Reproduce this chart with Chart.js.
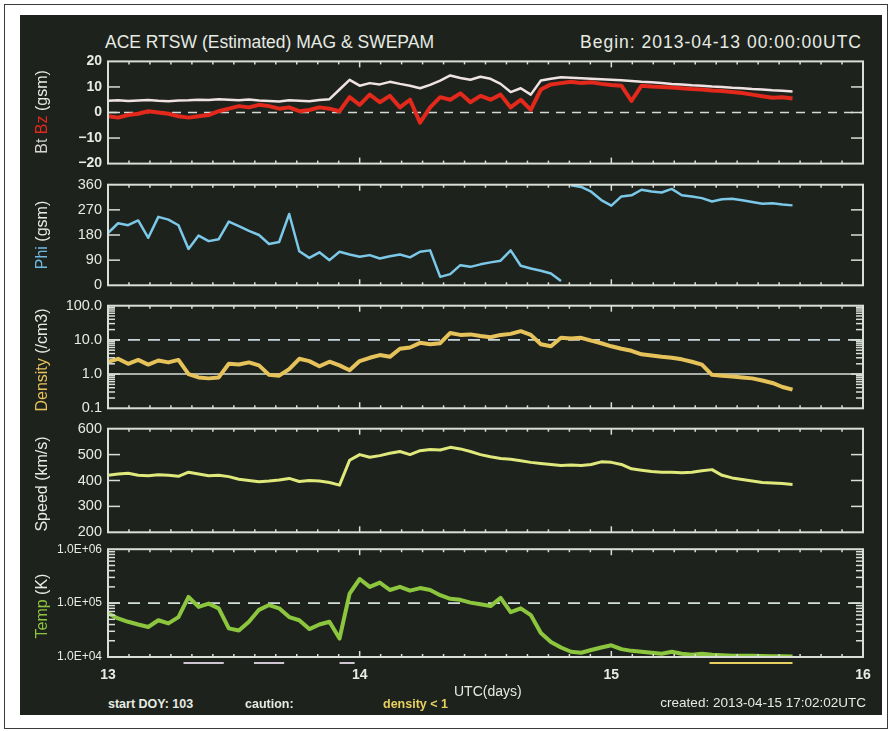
<!DOCTYPE html>
<html>
<head>
<meta charset="utf-8">
<script src="https://cdn.jsdelivr.net/npm/chart.js@4.4.0/dist/chart.umd.min.js"></script>
<style>
  body { margin: 0; background: #fff; }
  #page { position: relative; width: 892px; height: 731px; overflow: hidden; background: #fff;
          font-family: "Liberation Sans", Arial, sans-serif; }
  #frame { position: absolute; left: 4px; top: 4px; width: 882px; height: 723px; border: 1.5px solid #3a3a3a; }
  #board { position: absolute; left: 20px; top: 15px; width: 862px; height: 700px; background: #1e221d; }
  canvas { position: absolute; left: 20px; }
  .txt { position: absolute; color: #e6ebe3; white-space: nowrap; line-height: 1; }
  .ytitle { position: absolute; left: 42px; color: #e6ebe3; white-space: nowrap; line-height: 1;
            font-size: 16px; transform: translate(-50%, -50%) rotate(-90deg); }
</style>
</head>
<body>
<div id="page">
  <div id="frame"></div>
  <div id="board"></div>

  <div class="txt" style="left:105px;top:34px;font-size:17.5px">ACE RTSW (Estimated) MAG &amp; SWEPAM</div>
  <div class="txt" style="right:30px;top:34px;font-size:17.5px;letter-spacing:1px">Begin: 2013-04-13 00:00:00UTC</div>

  <canvas id="c1" width="862" height="131" style="top:47px"></canvas>
  <canvas id="c2" width="862" height="130" style="top:170px"></canvas>
  <canvas id="c3" width="862" height="132" style="top:291px"></canvas>
  <canvas id="c4" width="862" height="133" style="top:414px"></canvas>
  <canvas id="c5" width="862" height="155" style="top:536px"></canvas>

  <div class="ytitle" style="top:112px"><span style="color:#d8d4d4">Bt</span> <span style="color:#e3281c">Bz</span> (gsm)</div>
  <div class="ytitle" style="top:235px"><span style="color:#6fb8e0">Phi</span> (gsm)</div>
  <div class="ytitle" style="top:360px"><span style="color:#e6c35a">Density</span> (/cm3)</div>
  <div class="ytitle" style="top:484px">Speed (km/s)</div>
  <div class="ytitle" style="top:606px"><span style="color:#8cc63f">Temp</span> (K)</div>

  <div class="txt" style="left:108px;top:698px;font-size:12.5px;font-weight:bold">start DOY: 103</div>
  <div class="txt" style="left:245px;top:698px;font-size:12.5px;font-weight:bold">caution:</div>
  <div class="txt" style="left:383px;top:698px;font-size:12.5px;font-weight:bold;color:#e8d060">density &lt; 1</div>
  <div class="txt" style="left:454px;top:684px;font-size:14px">UTC(days)</div>
  <div class="txt" style="right:26px;top:696px;font-size:13.5px">created: 2013-04-15 17:02:02UTC</div>
</div>

<script>
// sample times (day of April 2013, UTC)
const days = [
    13.00, 13.04, 13.08, 13.12, 13.16, 13.20, 13.24, 13.28, 13.32, 13.36,
    13.40, 13.44, 13.48, 13.52, 13.56, 13.60, 13.64, 13.68, 13.72, 13.76,
    13.80, 13.84, 13.88, 13.92, 13.96, 14.00, 14.04, 14.08, 14.12, 14.16,
    14.20, 14.24, 14.28, 14.32, 14.36, 14.40, 14.44, 14.48, 14.52, 14.56,
    14.60, 14.64, 14.68, 14.72, 14.76, 14.80, 14.84, 14.88, 14.92, 14.96,
    15.00, 15.04, 15.08, 15.12, 15.16, 15.20, 15.24, 15.28, 15.32, 15.36,
    15.40, 15.44, 15.48, 15.52, 15.56, 15.60, 15.64, 15.68, 15.72
];

const btValues = [
    4.6, 4.8, 4.5, 4.7, 4.9, 4.6, 4.4, 4.7, 4.8, 5.0,
    4.9, 5.2, 5.0, 4.8, 5.1, 4.7, 4.5, 4.3, 4.8, 4.6,
    4.4, 4.9, 5.2, 9.0, 12.8, 10.5, 11.5, 11.0, 12.0, 11.2,
    10.5, 9.5, 10.8, 12.5, 14.5, 13.5, 12.8, 14.0, 13.2, 11.2,
    8.0, 9.5, 7.0, 12.5, 13.2, 13.8, 13.6, 13.4, 13.2, 13.0,
    12.8, 12.6, 12.3, 12.0, 11.8, 11.5, 11.2, 11.0, 10.7, 10.5,
    10.2, 10.0, 9.7, 9.5, 9.2, 9.0, 8.7, 8.5, 8.2
];

const bzValues = [
    -1.5, -2.0, -1.0, -0.5, 0.5, 0.0, -0.5, -1.5, -2.0, -1.5,
    -1.0, 0.5, 1.5, 2.5, 2.0, 3.0, 2.5, 1.5, 2.0, 0.5,
    1.0, 2.0, 1.5, 0.5, 6.0, 3.0, 7.0, 4.0, 6.5, 2.0,
    5.0, -4.0, 2.0, 6.0, 5.0, 7.5, 4.0, 6.5, 5.0, 7.0,
    2.0, 5.0, 1.0, 9.0, 11.0, 11.5, 12.0, 11.5, 11.8, 11.2,
    10.8, 10.5, 4.5, 10.5, 10.2, 10.0, 9.8, 9.5, 9.2, 9.0,
    8.6, 8.4, 8.0, 7.6, 7.0, 6.4, 5.8, 6.0, 5.5
];

const phiValues = [
    187, 222, 215, 232, 170, 245, 235, 215, 130, 178,
    158, 165, 228, 212, 195, 180, 148, 155, 255, 122,
    98, 118, 90, 120, 110, 102, 108, 96, 104, 110,
    100, 120, 125, 30, 40, 72, 66, 75, 82, 88,
    125, 70, 60, 52, 42, 15, 358, 352, 335, 305,
    285, 318, 322, 342, 336, 332, 345, 322, 318, 312,
    300, 308, 310, 304, 298, 292, 294, 289, 286
];

const densityValues = [
    2.3, 2.8, 2.0, 2.6, 1.9, 2.5, 2.2, 2.6, 1.0, 0.8,
    0.75, 0.8, 2.0, 1.9, 2.2, 1.8, 0.95, 0.9, 1.4, 2.8,
    2.4, 1.7, 2.3, 1.8, 1.3, 2.4, 3.0, 3.6, 3.2, 5.5,
    6.0, 8.2, 7.5, 8.0, 16, 14, 14.5, 13, 12, 14,
    15, 18, 14, 7.5, 6.5, 11.5, 11, 11.5, 9.5, 8,
    6.5, 5.5, 4.8, 3.8, 3.5, 3.2, 3.0, 2.7, 2.3, 1.9,
    0.95, 0.9, 0.85, 0.8, 0.75, 0.65, 0.55, 0.42, 0.35
];

const speedValues = [
    420, 425, 428, 420, 418, 422, 420, 416, 432, 425,
    418, 420, 415, 405, 400, 395, 398, 402, 408, 396,
    400, 398, 392, 382, 478, 500, 490, 496, 505, 512,
    500, 515, 520, 518, 528, 522, 512, 500, 492, 485,
    482, 476, 470, 466, 462, 458, 460, 458, 462, 472,
    470, 462, 445, 440, 435, 432, 432, 430, 432, 438,
    442, 420, 410, 404, 398, 392, 390, 388, 385
];

const tempValues = [
    65000, 52000, 45000, 40000, 36000, 48000, 42000, 55000, 130000, 85000,
    98000, 80000, 34000, 31000, 45000, 75000, 92000, 80000, 55000, 48000,
    33000, 40000, 45000, 22000, 150000, 280000, 200000, 240000, 175000, 200000,
    170000, 190000, 175000, 140000, 120000, 115000, 102000, 95000, 88000, 125000,
    68000, 80000, 60000, 28000, 19000, 15000, 12500, 12000, 13500, 15000,
    16500, 14000, 13000, 12500, 12000, 11500, 12500, 11500, 11000, 11500,
    11000, 10800, 10600, 10500, 10500, 10400, 10300, 10300, 10200
];

// axis ticks
const btTicks = [-20, -10, 0, 10, 20];
const phiTicks = [0, 90, 180, 270, 360];
const densityTicks = [0.1, 1, 10, 100];
const speedTicks = [200, 300, 400, 500, 600];
const tempTicks = [1e4, 1e5, 1e6];
const dayTicks = [13, 14, 15, 16];

// flagged periods drawn under the last panel
const cautionSpans = [[13.30, 13.46], [13.58, 13.70], [13.92, 13.98]];
const lowDensitySpans = [[15.39, 15.72]];

const TEXT = "#e6ebe3";
const FRAME = "#d9ded6";
const FONT = "'Liberation Sans', Arial, sans-serif";

function points(values) {
    return days.map(function (d, i) { return { x: d, y: values[i] }; });
}

function logMinor(ticks) {
    const out = [];
    for (let i = 0; i < ticks.length - 1; i++) {
        for (let k = 2; k <= 9; k++) out.push(ticks[i] * k);
    }
    return out;
}

/* ================= PANEL FRAME / TICK MARKS ================= */
const panelDecor = {
    id: "panelDecor",
    beforeDatasetsDraw(chart, args, opts) {
        const ctx = chart.ctx, a = chart.chartArea, y = chart.scales.y;
        ctx.save();
        (opts.refLines || []).forEach(function (r) {
            const py = y.getPixelForValue(r.value);
            ctx.strokeStyle = r.color;
            ctx.lineWidth = r.width;
            ctx.setLineDash(r.dash);
            ctx.beginPath();
            ctx.moveTo(a.left, py);
            ctx.lineTo(a.right, py);
            ctx.stroke();
        });
        ctx.restore();
    },
    afterDatasetsDraw(chart, args, opts) {
        const ctx = chart.ctx, a = chart.chartArea;
        const x = chart.scales.x, y = chart.scales.y;
        function seg(x0, y0, x1, y1) {
            ctx.beginPath(); ctx.moveTo(x0, y0); ctx.lineTo(x1, y1); ctx.stroke();
        }
        ctx.save();
        ctx.strokeStyle = FRAME;
        ctx.lineWidth = 2;
        ctx.strokeRect(a.left, a.top, a.right - a.left, a.bottom - a.top);
        ctx.lineWidth = 1.5;
        // small time ticks every 2 hours
        for (let h = 1; h < 36; h++) {
            const px = x.getPixelForValue(13 + h / 12);
            const len = h % 12 === 0 ? 6 : 3;
            seg(px, a.top, px, a.top + len);
            seg(px, a.bottom, px, a.bottom - len);
        }
        (opts.major || []).forEach(function (v) {
            const py = y.getPixelForValue(v);
            seg(a.left, py, a.left + 12, py);
            seg(a.right, py, a.right - 12, py);
        });
        (opts.minor || []).forEach(function (v) {
            const py = y.getPixelForValue(v);
            seg(a.left, py, a.left + 7, py);
            seg(a.right, py, a.right - 7, py);
        });
        (opts.spans || []).forEach(function (s) {
            ctx.strokeStyle = s.color;
            ctx.lineWidth = 2;
            s.list.forEach(function (p) {
                seg(x.getPixelForValue(p[0]), a.bottom + 6, x.getPixelForValue(p[1]), a.bottom + 6);
            });
        });
        ctx.restore();
    }
};

function yAxis(type, min, max, ticks, fmt, font) {
    return {
        type: type,
        min: min,
        max: max,
        position: "left",
        grid: { display: false, drawTicks: false },
        border: { display: false },
        afterBuildTicks: function (s) { s.ticks = ticks.map(function (v) { return { value: v }; }); },
        afterFit: function (s) { s.width = 88; },
        ticks: { color: TEXT, font: font, padding: 6, autoSkip: false, callback: fmt }
    };
}

function makePanel(id, yScale, datasets, decor) {
    const last = id === "c5";
    return new Chart(document.getElementById(id), {
        type: "line",
        data: { datasets: datasets },
        options: {
            responsive: false,
            animation: false,
            layout: { padding: { left: 0, right: 19, top: 12, bottom: last ? 0 : 12 } },
            elements: { point: { radius: 0 }, line: { tension: 0, borderJoinStyle: "round" } },
            plugins: {
                legend: { display: false },
                tooltip: { enabled: false },
                panelDecor: decor
            },
            scales: {
                x: {
                    type: "linear",
                    min: 13,
                    max: 16,
                    display: last,
                    grid: { display: false, drawTicks: false },
                    border: { display: false },
                    afterBuildTicks: function (s) { s.ticks = dayTicks.map(function (v) { return { value: v }; }); },
                    afterFit: function (s) { s.height = last ? 34 : 0; },
                    ticks: {
                        color: TEXT, padding: 10, maxRotation: 0, autoSkip: false,
                        font: { family: FONT, size: 14, weight: "bold" },
                        callback: function (v) { return String(v); }
                    }
                },
                y: yScale
            }
        },
        plugins: [panelDecor]
    });
}

const dashColor = "#d4dad6";

/* ================= Bt / Bz ================= */
makePanel("c1",
    yAxis("linear", -20, 20, btTicks,
        function (v) { return v < 0 ? "\u2212" + Math.abs(v) : String(v); },
        { family: FONT, size: 14, weight: "bold" }),
    [
        { data: points(btValues), borderColor: "#eee2e2", borderWidth: 2.5 },
        { data: points(bzValues), borderColor: "#e3281c", borderWidth: 4 }
    ],
    { major: [-10, 0, 10], refLines: [{ value: 0, color: dashColor, width: 1.5, dash: [9, 7] }] }
);

/* ================= Phi ================= */
makePanel("c2",
    yAxis("linear", 0, 360, phiTicks,
        function (v) { return String(v); },
        { family: FONT, size: 14.5 }),
    [
        {
            data: points(phiValues), borderColor: "#7cc8e8", borderWidth: 2.5,
            segment: {
                borderColor: function (c) {
                    return Math.abs(c.p1.parsed.y - c.p0.parsed.y) > 200 ? "rgba(0,0,0,0)" : "#7cc8e8";
                }
            }
        }
    ],
    { major: [90, 180, 270] }
);

/* ================= Density ================= */
makePanel("c3",
    yAxis("logarithmic", 0.1, 100, densityTicks,
        function (v) { return Number(v).toFixed(1); },
        { family: FONT, size: 14.5 }),
    [
        { data: points(densityValues), borderColor: "#e6c35a", borderWidth: 4 }
    ],
    {
        major: [1, 10],
        minor: logMinor(densityTicks),
        refLines: [
            { value: 10, color: "#c9d6de", width: 1.8, dash: [12, 8] },
            { value: 1, color: FRAME, width: 1.5, dash: [] }
        ]
    }
);

/* ================= Speed ================= */
makePanel("c4",
    yAxis("linear", 200, 600, speedTicks,
        function (v) { return String(v); },
        { family: FONT, size: 14.5 }),
    [
        { data: points(speedValues), borderColor: "#dfe87a", borderWidth: 3 }
    ],
    { major: [300, 400, 500] }
);

/* ================= Temperature ================= */
makePanel("c5",
    yAxis("logarithmic", 1e4, 1e6, tempTicks,
        function (v) { return "1.0E+0" + Math.round(Math.log10(v)); },
        { family: FONT, size: 12 }),
    [
        { data: points(tempValues), borderColor: "#8cc63f", borderWidth: 4 }
    ],
    {
        major: [1e5],
        minor: logMinor(tempTicks),
        refLines: [{ value: 1e5, color: "#d4e0dc", width: 1.8, dash: [12, 8] }],
        spans: [
            { color: "#cfc4d2", list: cautionSpans },
            { color: "#e8d060", list: lowDensitySpans }
        ]
    }
);
</script>
</body>
</html>
